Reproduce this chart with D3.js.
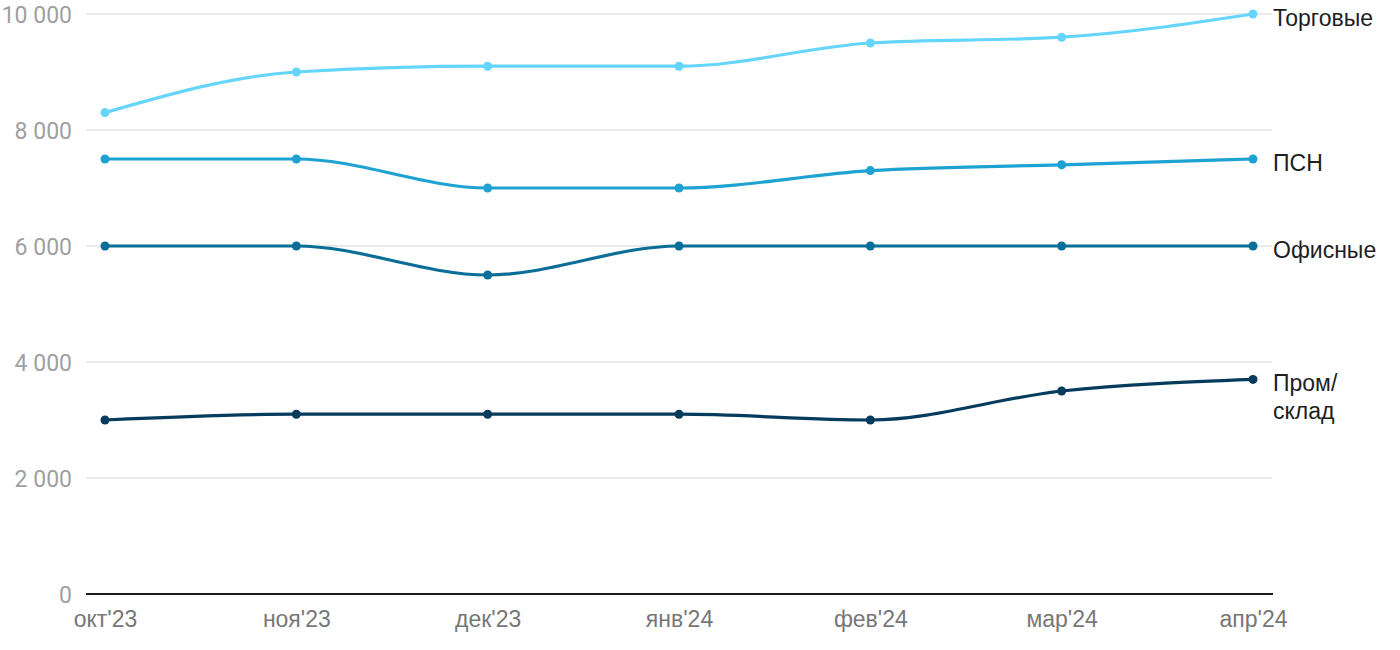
<!DOCTYPE html>
<html><head><meta charset="utf-8">
<script src="https://cdn.jsdelivr.net/npm/d3@7"></script>
<style>body{margin:0;background:#fff;font-family:"Liberation Sans",Arial,sans-serif}</style>
</head><body><svg id="c" width="1400" height="650"></svg>
<script>
const categories = ["окт'23","ноя'23","дек'23","янв'24","фев'24","мар'24","апр'24"];
const seriesNames = ["Торговые","ПСН","Офисные","Пром/склад"];
const torgovye = [8300, 9000, 9100, 9100, 9500, 9600, 10000];
const psn = [7500, 7500, 7000, 7000, 7300, 7400, 7500];
const ofisnye = [6000, 6000, 5500, 6000, 6000, 6000, 6000];
const promSklad = [3000, 3100, 3100, 3100, 3000, 3500, 3700];
const yTicks = [0, 2000, 4000, 6000, 8000, 10000];
const colors = ["#66d5fc", "#1ea2d2", "#0a6e98", "#053c5d"];

const series = [torgovye, psn, ofisnye, promSklad];
const svg = d3.select("#c");
const x = d3.scalePoint().domain(categories).range([105, 1253]);
const y = d3.scaleLinear().domain([0, 10000]).range([594, 14]);
const fmt = v => d3.format(",")(v).replace(/,/g, " ");

// gridlines
svg.append("g").selectAll("line").data(yTicks.filter(d=>d>0)).join("line")
  .attr("x1", 86).attr("x2", 1272).attr("y1", d=>y(d)).attr("y2", d=>y(d))
  .attr("stroke", "#e3e3e3").attr("stroke-width", 1.5);

// y axis labels
const ya = svg.append("g").attr("transform","translate(72,0)")
  .call(d3.axisLeft(y).tickValues(yTicks).tickFormat(fmt).tickSize(0).tickPadding(0));
ya.select(".domain").remove();
ya.selectAll("text").attr("fill","#a0a0a0").style("font-size","23px").style("font-family","Roboto").attr("dy","0.35em");

// x axis
const xa = svg.append("g").attr("transform","translate(0,594)")
  .call(d3.axisBottom(x).tickSize(0).tickPadding(16));
xa.select(".domain").remove();
xa.selectAll("text").attr("fill","#777").style("font-size","23px").style("font-family","'Liberation Sans',Arial,sans-serif").attr("dy","0.75em");
svg.append("line").attr("x1",86).attr("x2",1273).attr("y1",y(0)).attr("y2",y(0))
  .attr("stroke","#1a1a1a").attr("stroke-width",2);

const line = d3.line().x((d,i)=>x(categories[i])).y(d=>y(d)).curve(d3.curveMonotoneX);
series.forEach((s, k) => {
  const g = svg.append("g");
  g.append("path").attr("d", line(s)).attr("fill","none").attr("stroke",colors[k]).attr("stroke-width",3.2);
  g.selectAll("circle").data(s).join("circle")
    .attr("cx",(d,i)=>x(categories[i])).attr("cy",d=>y(d)).attr("r",4.5).attr("fill",colors[k]);
});

// series labels
const labelLines = [["Торговые"],["ПСН"],["Офисные"],["Пром/","склад"]];
series.forEach((s,k)=>{
  const t = svg.append("text").attr("x",1273).attr("y",y(s[s.length-1]) + 4)
    .attr("fill","#1e1e1e").style("font-size","23px").style("font-family","'Liberation Sans',Arial,sans-serif");
  labelLines[k].forEach((ln,j)=>{
    t.append("tspan").attr("x",1273).attr("dy", j===0 ? "0.35em" : "28px").text(ln);
  });
});
</script></body></html>
